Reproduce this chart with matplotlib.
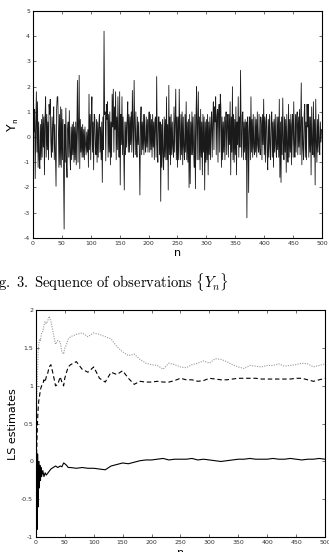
import numpy as np
import matplotlib.pyplot as plt

plt.rcParams['mathtext.fontset'] = 'cm'

# observations Y_n, n = 0..499 (blocks of 25)
y_obs = [
    0.3, 1.6, 0.2, 1.1, -1.65, 0.4, 1.8, -0.6, 1.4, -1.2, 0.6, -0.9, -1.25, 0.5, -0.9, 0.7, -0.8, 0.9, -0.4, 0.8, -1.5, 0.8, 1.6, -0.8, 0.9,
    -0.5, 0.6, -0.9, 1.3, 0.9, 1.5, -0.2, -0.8, 0.8, -0.6, 0.6, 1.2, -0.9, 0.5, -0.7, -1.95, 1.1, 1.6, 1.6, 0.4, -1.2, 0.9, -1.1, 1.2, -1.2,
    1.1, -0.9, 0.7, -1.3, -3.65, 0.5, -1.0, 1.15, -1.0, -1.6, 0.3, 0.6, -0.8, 1.05, -0.6, -1.3, 0.4, -0.9, 0.5, -0.7, 0.6, -1.0, 0.4, -0.9, 0.6,
    -1.1, 0.3, 2.25, -1.0, 0.5, 2.45, -1.25, 0.7, -0.6, 0.4, -0.8, 0.5, -0.8, 0.3, -0.9, 0.4, -0.3, -0.7, 0.2, -0.6, 0.3, -1.2, 1.7, -0.5, 0.9,
    -0.9, 0.8, 1.6, -0.6, 0.6, -1.3, 0.9, 0.8, -0.4, -0.7, 0.7, -1.0, 0.6, -0.8, 0.5, 0.9, -0.6, 0.4, -0.9, 0.6, -1.8, 0.8, -0.5, 4.2, 0.9,
    1.0, -0.95, 1.3, 0.7, 1.4, -0.8, 0.9, -0.6, 1.0, -1.1, 0.6, -0.8, 1.7, 0.4, 1.9, -0.6, 1.2, 0.3, 1.8, -0.9, 0.8, -0.5, 1.6, 0.2, -0.8,
    1.8, -1.9, 0.9, -0.3, 1.6, -0.7, 0.8, -0.5, -2.1, 0.6, -0.7, 0.6, -0.4, 0.7, 1.4, -0.6, 0.9, -0.6, 0.8, -0.3, 1.0, -0.6, 1.85, 0.3, -0.8,
    2.25, 0.5, -0.7, 1.0, -0.3, -0.8, 0.8, -0.3, 0.6, -0.5, -2.3, 0.5, 1.2, -0.7, 0.6, -0.5, 0.9, -0.7, 0.9, -0.2, -0.6, 0.8, -0.4, 0.7, -0.6,
    0.5, 1.0, -0.6, 0.9, -0.5, 0.7, -0.8, 0.9, -0.4, 0.6, -0.9, 0.7, 0.8, -0.8, 2.4, -0.3, -1.0, 0.8, 0.8, -0.7, 0.6, -2.55, 0.5, -1.2, 0.7,
    -0.7, -1.3, 0.8, -0.8, 0.7, -0.9, 1.6, -0.9, 0.5, -2.1, 2.05, -0.7, 0.8, -1.1, 0.9, -0.7, 0.6, -0.4, -0.8, 1.2, -0.6, 0.7, 1.9, -0.9, 0.8,
    -1.2, 0.8, -0.9, 1.9, 0.2, -0.9, 0.9, -0.7, 1.0, -1.1, 0.8, -0.4, -0.9, 0.9, -0.6, 1.4, -0.9, 0.6, -1.0, 0.7, -2.0, 0.9, -1.85, 0.6, -0.7,
    1.0, -0.7, 0.8, -0.6, -1.2, 0.9, -2.05, 0.8, 2.0, -0.9, 0.6, 1.8, -0.9, 0.8, -1.3, 1.1, -0.8, 0.6, -1.5, 0.9, -0.6, 0.8, -2.1, 0.6, -1.0,
    0.7, -0.9, 0.9, -1.5, 0.6, -0.7, 0.8, -0.9, 0.5, 1.0, -0.8, 0.6, 1.4, -0.5, 1.2, 0.6, 1.6, -0.7, 0.8, 1.1, -1.0, 0.9, 1.3, -0.6, 1.7,
    1.2, -1.2, 0.8, -0.9, 0.6, -0.6, 0.8, -0.9, 0.4, 1.0, -0.7, 0.6, 0.9, -0.8, 0.9, -0.3, 1.4, -1.5, 0.8, -0.6, 2.0, -0.9, 0.9, -1.0, 0.7,
    -0.7, 1.2, -1.5, 0.6, -0.3, 1.6, -0.8, 0.8, -0.4, 2.65, 0.3, -0.8, 0.9, 1.0, -0.9, 0.6, -0.6, 0.7, -0.9, 0.6, -3.2, 0.8, 0.2, -2.2, 0.8,
    0.8, -0.9, 1.6, -0.6, 0.7, -0.8, 0.9, -0.4, -0.7, 0.8, -0.6, 0.7, -0.8, 1.0, -0.3, -0.6, 0.9, -0.4, -0.7, 0.8, 0.5, -0.9, 0.9, -0.3, 1.5,
    -0.7, 0.8, -1.0, 0.6, 0.9, -0.6, -1.3, 0.7, -0.8, 0.9, -0.3, -0.9, 0.8, 1.0, -0.8, 0.6, -1.2, 0.7, -0.6, 0.9, -0.3, -0.8, 0.8, -0.5, 0.8,
    -0.8, 1.5, -1.6, 0.6, -1.8, 0.8, -0.7, 1.55, -0.2, -0.9, 0.8, -0.6, 0.7, -1.4, 0.9, -0.3, -1.0, 1.3, -0.8, 0.7, -0.6, 0.9, -1.1, 0.5, 0.9,
    -0.8, 1.4, -0.3, -0.8, 0.9, -0.6, 0.8, 1.0, -0.7, 0.8, -0.4, 1.1, -0.7, 0.6, 2.15, -1.1, 0.8, -0.4, -0.9, 0.9, 1.3, -0.8, 0.6, -0.9, 1.3,
    0.4, 1.3, -0.8, 0.8, -0.6, 0.8, -1.5, 1.2, -0.3, -0.7, 1.4, -0.8, 0.7, -1.9, 1.5, -0.2, -1.0, 0.7, -0.6, 0.9, -0.3, -0.7, 0.6, -0.2, 0.3,
]
n_obs = np.arange(len(y_obs))

# LS estimates, read at these n
n_est = [1, 2, 3, 4, 5, 6, 7, 8, 9, 10, 12, 14, 16, 18, 20,
         23, 26, 30, 34, 38, 42, 45, 48, 50, 53, 56, 60] + list(range(70, 501, 10))
est_solid = [0.0, -0.9, 0.1, -0.6, 0.0, -0.35, -0.05, -0.25, -0.08, -0.2,
             -0.12, -0.2, -0.15, -0.18, -0.16,
             -0.13, -0.1, -0.08, -0.06, -0.08, -0.06, -0.07, -0.02, -0.03, -0.05, -0.08, -0.08,
             -0.09, -0.08, -0.09, -0.09, -0.1, -0.11, -0.06, -0.04, -0.02, -0.03,
             -0.01, 0.01, 0.02, 0.02, 0.03, 0.04, 0.02, 0.03, 0.03, 0.03,
             0.04, 0.02, 0.03, 0.02, 0.01, 0.0, 0.01, 0.02, 0.03, 0.03,
             0.04, 0.03, 0.03, 0.03, 0.04, 0.03, 0.03, 0.04, 0.03, 0.02,
             0.03, 0.03, 0.04, 0.03]
est_dashed = [0.0, 0.3, 0.55, 0.7, 0.8, 0.85, 0.9, 0.95, 0.98, 1.0,
              1.02, 1.08, 1.05, 1.12, 1.15,
              1.25, 1.28, 1.15, 1.0, 1.02, 1.12, 1.05, 1.0, 1.1, 1.18, 1.25, 1.28,
              1.32, 1.22, 1.18, 1.25, 1.1, 1.05, 1.18, 1.15, 1.2, 1.1,
              1.02, 1.06, 1.05, 1.05, 1.06, 1.05, 1.05, 1.07, 1.1, 1.08,
              1.08, 1.06, 1.07, 1.1, 1.09, 1.08, 1.08, 1.09, 1.1, 1.1,
              1.1, 1.1, 1.09, 1.09, 1.09, 1.09, 1.09, 1.09, 1.1, 1.1,
              1.08, 1.06, 1.08, 1.1]
est_dotted = [0.5, 0.9, 1.2, 1.45, 1.55, 1.6, 1.62, 1.6, 1.65, 1.7,
              1.72, 1.8, 1.85, 1.82, 1.85,
              1.92, 1.85, 1.7, 1.55, 1.6, 1.58, 1.45, 1.42, 1.5, 1.55, 1.62, 1.65,
              1.68, 1.7, 1.65, 1.7, 1.68, 1.65, 1.62, 1.52, 1.45, 1.4,
              1.42, 1.35, 1.3, 1.28, 1.27, 1.22, 1.3, 1.28, 1.25, 1.24,
              1.28, 1.3, 1.33, 1.3, 1.36, 1.35, 1.32, 1.28, 1.25, 1.23,
              1.27, 1.26, 1.25, 1.27, 1.27, 1.29, 1.26, 1.27, 1.28, 1.3,
              1.29, 1.25, 1.27, 1.29]

fig = plt.figure(figsize=(3.29, 5.52), dpi=100)

def style(ax):
    ax.tick_params(direction='in', top=True, right=True, labelsize=4.5,
                   length=2.5, width=0.5, colors='#333333', pad=2)
    for s in ax.spines.values():
        s.set_linewidth(0.8)

# top: observations
ax1 = fig.add_axes([0.100, 0.569, 0.879, 0.411])
ax1.plot(n_obs, y_obs, color='#1a1a1a', lw=0.6)
ax1.set_xlim(0, 500)
ax1.set_ylim(-4, 5)
ax1.set_xticks(range(0, 501, 50))
ax1.set_yticks(range(-4, 6))
ax1.set_yticklabels([str(v) for v in range(-4, 6)])
style(ax1)
ax1.set_xlabel('n', fontsize=8, labelpad=2)
ax1.set_ylabel(r'Y$_\mathsf{n}$', fontsize=9, labelpad=2)

# caption
fig.text(-0.005, 0.489, r'$\mathrm{g.\ 3.\ Sequence\ of\ observations}\ \{Y_n\}$',
         fontsize=10.5, va='center', ha='left')

# bottom: LS estimates
ax2 = fig.add_axes([0.109, 0.027, 0.879, 0.411])
ax2.plot(n_est, est_dotted, color='#999999', lw=0.8, linestyle=(0, (1, 1.2)))
ax2.plot(n_est, est_dashed, color='black', lw=0.8, linestyle=(0, (4, 2.5)))
ax2.plot(n_est, est_solid, color='black', lw=0.8)
ax2.set_xlim(0, 500)
ax2.set_ylim(-1, 2)
ax2.set_xticks(range(0, 501, 50))
ax2.set_yticks([-1, -0.5, 0, 0.5, 1, 1.5, 2])
ax2.set_yticklabels(['-1', '-0.5', '0', '0.5', '1', '1.5', '2'])
ax2.set_xticklabels([str(v) for v in range(0, 501, 50)])
style(ax2)
ax2.set_xlabel('n', fontsize=8, labelpad=2)
ax2.set_ylabel('LS estimates', fontsize=8, labelpad=2)

fig.savefig('out.png', dpi=100)
